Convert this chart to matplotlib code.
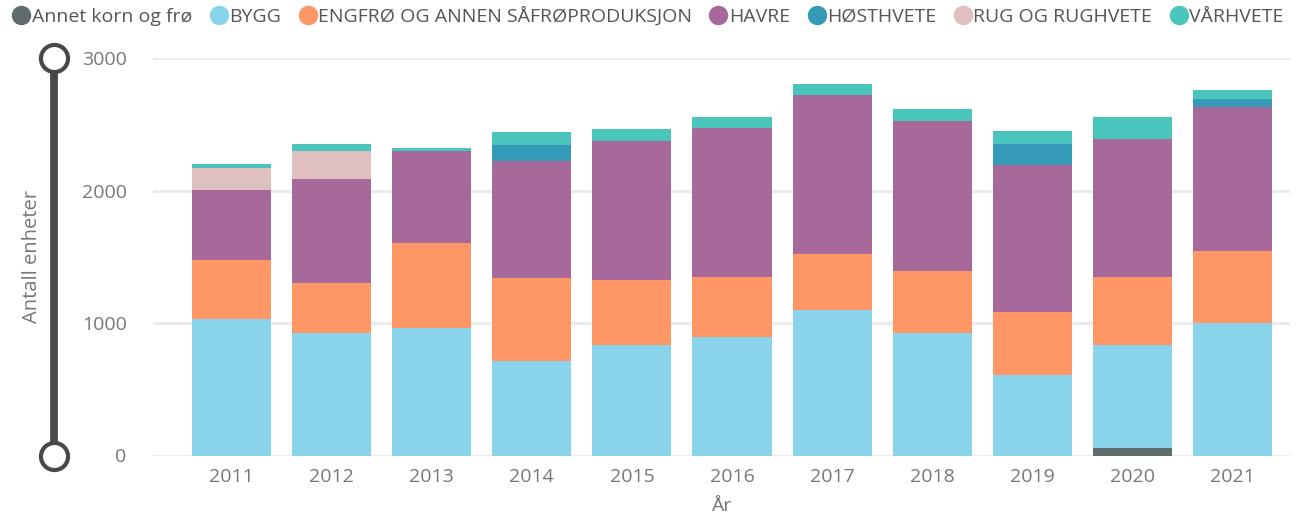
import numpy as np
import matplotlib
matplotlib.use("Agg")
import matplotlib.pyplot as plt
from matplotlib.lines import Line2D

plt.rcParams["font.family"] = ["Open Sans", "DejaVu Sans"]

years = ["2011", "2012", "2013", "2014", "2015", "2016", "2017", "2018", "2019", "2020", "2021"]
serier = ["Annet korn og frø", "BYGG", "ENGFRØ OG ANNEN SÅFRØPRODUKSJON", "HAVRE",
          "HØSTHVETE", "RUG OG RUGHVETE", "VÅRHVETE"]
annet     = [0, 0, 0, 0, 0, 0, 0, 0, 0, 57, 0]
bygg      = [1033, 926, 965, 715, 836, 896, 1101, 926, 609, 779, 1002]
engfro    = [446, 379, 642, 628, 492, 454, 416, 470, 476, 514, 545]
havre     = [522, 779, 689, 877, 1044, 1120, 1202, 1127, 1105, 1037, 1082]
hosthvete = [0, 0, 0, 121, 0, 0, 0, 0, 159, 0, 60]
rug       = [166, 212, 0, 0, 0, 0, 0, 0, 0, 0, 0]
varhvete  = [30, 53, 22, 99, 90, 83, 84, 91, 98, 166, 68]
farger = ["#5F6B6D", "#8AD4EB", "#FE9666", "#A66999", "#3599B8", "#DFBFBF", "#4AC5BB"]

data = [annet, bygg, engfro, havre, hosthvete, rug, varhvete]

fig = plt.figure(figsize=(12.97, 5.19), dpi=100)
ax = fig.add_axes([153/1297, 1-455.5/519, (1290-153)/1297, (455.5-58)/519])

x = np.arange(len(years))
bunn = np.zeros(len(years))
for navn, verdier, farge in zip(serier, data, farger):
    ax.bar(x, verdier, bottom=bunn, width=0.79, color=farge, label=navn, zorder=3)
    bunn += np.array(verdier)

ax.set_ylim(0, 3000)
ax.set_xlim(-0.785, 10.575)
ax.set_yticks([0, 1000, 2000, 3000])
ax.set_xticks(x)
ax.set_xticklabels(years)
ax.yaxis.grid(True, color="#EAEAEA", linewidth=2, zorder=0)
for s in ax.spines.values():
    s.set_visible(False)
ax.tick_params(length=0, labelsize=14, colors="#777777")
ax.tick_params(axis="y", pad=19)
ax.tick_params(axis="x", pad=9)
ax.set_xlabel("År", fontsize=14, color="#777777", labelpad=8)
ax.set_ylabel("Antall enheter", fontsize=14.5, color="#777777")
ax.yaxis.set_label_coords(-0.098, 0.5)

# glidebryter til venstre
xs = 54/1297
y0 = 1-455.5/519
y1 = 1-58/519
fig.add_artist(Line2D([xs, xs], [y0, y1], transform=fig.transFigure,
                      color="#4A4846", linewidth=5.6, zorder=5))
fig.add_artist(Line2D([xs, xs], [y0, y1], transform=fig.transFigure, linestyle="none",
                      marker="o", markersize=19.5, markerfacecolor="white",
                      markeredgecolor="#4A4846", markeredgewidth=3, zorder=6))

handles = [Line2D([], [], linestyle="none", marker="o", markersize=13,
                  markerfacecolor=f, markeredgecolor=f) for f in farger]
leg = fig.legend(handles, serier, loc="upper left", bbox_to_anchor=(0.0, 1.01), ncol=7,
                 frameon=False, fontsize=14, handletextpad=0.05, columnspacing=0.85,
                 handlelength=1.0, borderaxespad=0.2)
for t in leg.get_texts():
    t.set_color("#555555")

fig.savefig("out.png", dpi=100)
